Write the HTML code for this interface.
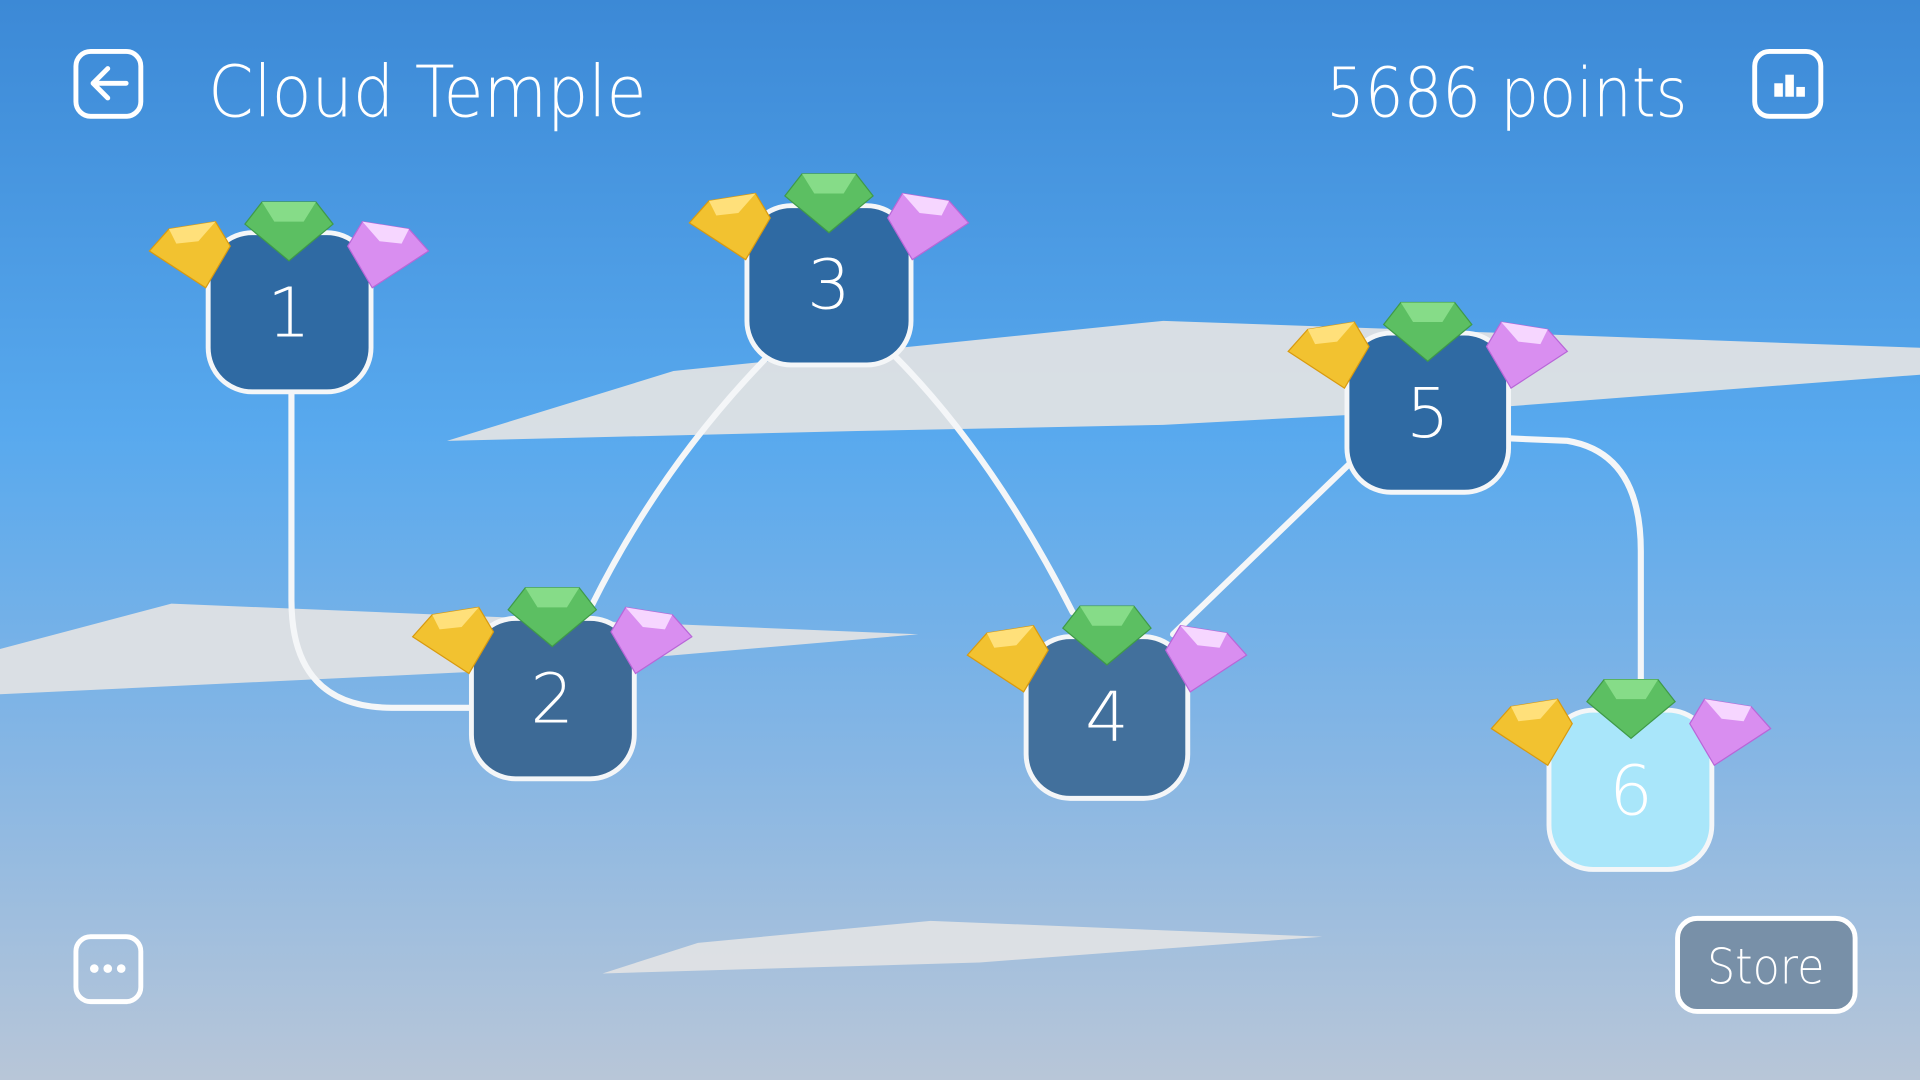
<!DOCTYPE html>
<html><head><meta charset="utf-8"><style>
html,body{margin:0;padding:0;width:1920px;height:1080px;overflow:hidden}
svg{display:block}
text{font-family:"DejaVu Sans","Liberation Sans",sans-serif;font-weight:200}
</style></head><body>
<svg width="1920" height="1080" viewBox="0 0 1568 882" preserveAspectRatio="none">
<defs>
<linearGradient id="bg" x1="0" y1="0" x2="0" y2="1">
<stop offset="0" stop-color="#3c89d6"/><stop offset="0.4" stop-color="#58a9ee"/><stop offset="0.7" stop-color="#86b6e4"/><stop offset="1" stop-color="#b8c6d8"/>
</linearGradient>
<g id="gems">
<polygon points="-114,-50 -98,-68 -60,-74 -48,-54 -68,-20" fill="#f2c230" stroke="#d89a10" stroke-width="1"/>
<polygon points="-98,-68 -60,-74 -74,-58 -92,-56" fill="#ffe07a"/>
<polygon points="114,-50 98,-68 60,-74 48,-54 68,-20" fill="#d98ef0" stroke="#b866d8" stroke-width="1"/>
<polygon points="98,-68 60,-74 74,-58 92,-56" fill="#f6d6ff"/>
<polygon points="-36,-72 -22,-90 22,-90 36,-72 0,-42" fill="#5cbf62" stroke="#3f9a48" stroke-width="1"/>
<polygon points="-22,-90 22,-90 12,-74 -12,-74" fill="#86dc88"/>
</g>
</defs>
<rect width="1568" height="882" fill="url(#bg)"/>
<g fill="#dfe1e4" opacity="0.95">
<polygon points="365,360 550,303 950,262 1568,284 1568,306 1230,332 950,347 700,352"/>
<polygon points="0,530 140,493 750,518 400,548 0,567"/>
<polygon points="492,795 570,770 760,752 1080,765 800,786"/>
</g>
<g fill="none" stroke="#f4f6f8" stroke-width="5" stroke-linecap="round">
<path d="M238,320 L238,490 Q238,578 320,578 L385,578"/>
<path d="M628,290 Q540,380 483,495"/>
<path d="M728,288 Q810,370 876,500"/>
<path d="M958,518 L1103,378"/>
<path d="M1232,358 L1280,360 Q1340,370 1340,450 L1340,555"/>
</g>
<g stroke="#f4f6f8" stroke-width="4">
<rect x="170" y="190" width="133" height="130" rx="36" fill="#2f6aa3"/>
<rect x="385" y="505" width="133" height="131" rx="36" fill="#3d6a96"/>
<rect x="610" y="168" width="134" height="130" rx="36" fill="#2f6aa3"/>
<rect x="838" y="520" width="132" height="132" rx="36" fill="#42709c"/>
<rect x="1100" y="272" width="132" height="130" rx="36" fill="#2f6aa3"/>
<rect x="1265" y="580" width="133" height="130" rx="36" fill="#a9e6fa"/>
</g>
<g fill="#fff" font-size="56" text-anchor="middle">
<text x="236" y="275">1</text><text x="451" y="590">2</text><text x="677" y="252">3</text>
<text x="904" y="605">4</text><text x="1166" y="357">5</text><text x="1332" y="665">6</text>
</g>
<use href="#gems" x="236" y="255"/><use href="#gems" x="451" y="570"/><use href="#gems" x="677" y="232"/>
<use href="#gems" x="904" y="585"/><use href="#gems" x="1166" y="337"/><use href="#gems" x="1332" y="645"/>
<g fill="none" stroke="#fff" stroke-width="4">
<rect x="62" y="42" width="53" height="53" rx="12"/>
<rect x="1433" y="42" width="54" height="53" rx="12"/>
<rect x="62" y="765" width="53" height="53" rx="12"/>
<path d="M103,68 H76 M88,56 L76,68 L88,80" stroke-linecap="round" stroke-linejoin="round"/>
</g>
<g fill="#fff"><rect x="1449" y="68" width="7" height="11"/><rect x="1458" y="61" width="7" height="18"/><rect x="1467" y="71" width="7" height="8"/>
<circle cx="77" cy="791" r="3.5"/><circle cx="88" cy="791" r="3.5"/><circle cx="99" cy="791" r="3.5"/></g>
<rect x="1370" y="750" width="145" height="76" rx="16" fill="#7890a8" stroke="#fff" stroke-width="4"/>
<text x="1442" y="803" font-size="40" fill="#fff" text-anchor="middle" textLength="96" lengthAdjust="spacingAndGlyphs">Store</text>
<text x="170" y="95" font-size="58" fill="#fff" textLength="358" lengthAdjust="spacingAndGlyphs">Cloud Temple</text>
<text x="1083" y="95" font-size="56" fill="#fff" textLength="295" lengthAdjust="spacingAndGlyphs">5686 points</text>
</svg>
</body></html>
